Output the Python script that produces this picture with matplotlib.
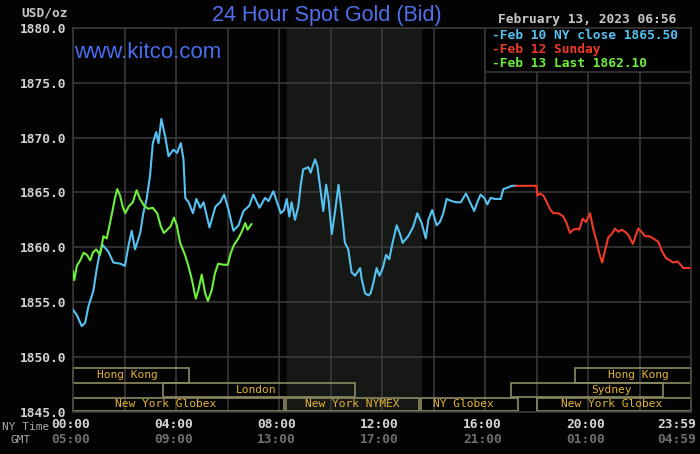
import matplotlib
matplotlib.use('Agg')
import matplotlib.pyplot as plt
from matplotlib.patches import Rectangle

# 数据：小时（纽约时间）与价格
blue_hours = [0.0, 0.15, 0.34, 0.47, 0.6, 0.79, 0.92, 1.05, 1.15, 1.37, 1.57, 1.83, 2.02, 2.15, 2.28,
              2.41, 2.61, 2.73, 2.86, 2.99, 3.1, 3.23, 3.32, 3.43, 3.58, 3.71, 3.9, 4.04, 4.19, 4.29,
              4.36, 4.49, 4.66, 4.79, 4.94, 5.07, 5.3, 5.53, 5.72, 5.87, 6.04, 6.23, 6.43, 6.62, 6.85,
              7.0, 7.24, 7.46, 7.59, 7.78, 7.91, 8.07, 8.2, 8.3, 8.4, 8.49, 8.62, 8.75, 8.84, 8.94,
              9.14, 9.23, 9.31, 9.4, 9.49, 9.59, 9.72, 9.83, 9.92, 10.05, 10.18, 10.31, 10.44, 10.56,
              10.69, 10.82, 10.95, 11.04, 11.15, 11.21, 11.34, 11.47, 11.56, 11.66, 11.79, 11.9, 12.03,
              12.16, 12.28, 12.41, 12.57, 12.7, 12.8, 13.02, 13.22, 13.37, 13.54, 13.7, 13.8, 13.95,
              14.12, 14.25, 14.38, 14.51, 14.71, 14.9, 15.06, 15.26, 15.42, 15.58, 15.7, 15.83, 15.97,
              16.09, 16.22, 16.39, 16.61, 16.71, 16.84, 17.04, 17.2]
blue_prices = [1854.3, 1853.8, 1852.8, 1853.1, 1854.6, 1856.0, 1858.0, 1859.6, 1860.2, 1859.6, 1858.6,
               1858.5, 1858.3, 1860.1, 1861.5, 1859.8, 1861.3, 1863.1, 1864.4, 1866.5, 1869.5, 1870.5,
               1869.5, 1871.7, 1870.1, 1868.3, 1868.9, 1868.6, 1869.5, 1868.0, 1864.5, 1864.1, 1863.1,
               1864.4, 1863.6, 1864.1, 1861.8, 1863.7, 1864.1, 1864.8, 1863.4, 1861.5, 1862.0, 1863.3,
               1863.8, 1864.8, 1863.6, 1864.5, 1864.2, 1865.1, 1864.2, 1863.1, 1863.4, 1864.4, 1862.8,
               1864.1, 1862.5, 1863.7, 1865.6, 1867.1, 1867.3, 1866.8, 1867.4, 1868.0, 1867.4, 1865.6,
               1863.3, 1865.7, 1864.4, 1861.2, 1863.3, 1865.7, 1863.1, 1860.4, 1859.8, 1857.7, 1857.4,
               1857.7, 1858.1, 1857.1, 1855.8, 1855.6, 1855.8, 1856.7, 1858.1, 1857.4, 1858.1, 1859.3,
               1858.9, 1860.4, 1862.0, 1861.2, 1860.4, 1861.0, 1861.9, 1863.1, 1862.2, 1860.8, 1862.5,
               1863.4, 1862.0, 1862.3, 1863.1, 1864.4, 1864.2, 1864.1, 1864.1, 1864.9, 1864.1, 1863.3,
               1864.1, 1864.8, 1864.5, 1863.9, 1864.5, 1864.4, 1864.4, 1865.3, 1865.4, 1865.6, 1865.6]

red_hours = [17.2, 18.0, 18.03, 18.14, 18.27, 18.4, 18.52, 18.65, 18.85, 19.04, 19.15, 19.3, 19.43,
             19.56, 19.66, 19.79, 19.92, 20.08, 20.21, 20.34, 20.44, 20.55, 20.66, 20.79, 20.92, 21.05,
             21.18, 21.31, 21.44, 21.57, 21.74, 21.86, 21.95, 22.08, 22.21, 22.38, 22.53, 22.73, 22.86,
             23.03, 23.18, 23.31, 23.47, 23.6, 23.7, 23.94]
red_prices = [1865.6, 1865.6, 1864.7, 1864.9, 1864.7, 1864.1, 1863.5, 1863.1, 1863.1, 1862.8, 1862.3,
              1861.3, 1861.6, 1861.7, 1861.6, 1862.6, 1862.3, 1863.1, 1861.6, 1860.5, 1859.4, 1858.6,
              1859.7, 1860.9, 1861.2, 1861.7, 1861.4, 1861.6, 1861.4, 1861.1, 1860.3, 1861.1, 1861.7,
              1861.4, 1861.0, 1861.0, 1860.8, 1860.5, 1859.7, 1859.0, 1858.8, 1858.6, 1858.7, 1858.4,
              1858.1, 1858.1]

green_hours = [0.0, 0.05, 0.15, 0.28, 0.41, 0.54, 0.67, 0.77, 0.9, 1.05, 1.18, 1.31, 1.41, 1.54, 1.63,
               1.72, 1.83, 1.93, 2.03, 2.16, 2.32, 2.47, 2.6, 2.76, 2.92, 3.09, 3.27, 3.41, 3.53, 3.66,
               3.79, 3.92, 4.03, 4.16, 4.35, 4.48, 4.62, 4.77, 4.87, 5.0, 5.13, 5.24, 5.39, 5.51, 5.64,
               5.84, 6.01, 6.13, 6.25, 6.42, 6.55, 6.69, 6.78, 6.93]
green_prices = [1857.8, 1857.0, 1858.3, 1858.8, 1859.5, 1859.3, 1858.8, 1859.5, 1859.8, 1859.3, 1861.0,
                1860.8, 1861.9, 1863.4, 1864.5, 1865.3, 1864.7, 1863.7, 1863.1, 1863.7, 1864.1, 1865.2,
                1864.4, 1863.8, 1863.5, 1863.6, 1863.1, 1861.9, 1861.3, 1861.6, 1861.9, 1862.7, 1862.0,
                1860.4, 1859.3, 1858.3, 1857.0, 1855.3, 1856.1, 1857.5, 1855.8, 1855.1, 1856.1, 1857.6,
                1858.5, 1858.4, 1858.4, 1859.5, 1860.2, 1860.8, 1861.4, 1862.2, 1861.6, 1862.1]

legend_labels = ['-Feb 10 NY close 1865.50', '-Feb 12 Sunday', '-Feb 13 Last 1862.10']

y_ticks = [1845, 1850, 1855, 1860, 1865, 1870, 1875, 1880]
x_ticks = [0, 4, 8, 12, 16, 20, 24]
ny_labels = ['00:00', '04:00', '08:00', '12:00', '16:00', '20:00', '23:59']
gmt_labels = ['05:00', '09:00', '13:00', '17:00', '21:00', '01:00', '04:59']

# 交易时段
session_names = ['Hong Kong', 'London', 'New York Globex', 'New York NYMEX', 'NY Globex',
                 'Sydney', 'Hong Kong', 'New York Globex']
session_start = [0, 3.5, 0, 8.27, 13.52, 17.0, 19.5, 18.0]
session_end = [4.5, 10.95, 8.2, 13.45, 17.3, 22.93, 24, 24]
session_row = [0, 1, 2, 2, 2, 1, 0, 2]
session_text_x = [2.1, 7.1, 3.6, 10.86, 15.15, 20.9, 21.95, 20.9]

nymex_open, nymex_close = 8.33, 13.5

BG = '#030303'
GRID = '#3c3c3c'
BLUE = '#55c2f2'
RED = '#ee3a26'
GREEN = '#6cf03c'
MONO = 'DejaVu Sans Mono'

fig = plt.figure(figsize=(7, 4.54), dpi=100, facecolor=BG)
ax = fig.add_axes([73 / 700, (454 - 411.6) / 454, 618 / 700, (411.6 - 28) / 454])
ax.set_facecolor(BG)
ax.set_xlim(0, 24)
ax.set_ylim(1845, 1880)

# NYMEX 时段阴影
ax.axvspan(nymex_open, nymex_close, color='#151815', zorder=0)

ax.set_xticks(list(range(0, 25, 2)))
ax.set_xticklabels([])
ax.set_yticks(y_ticks)
ax.set_yticklabels(['%.1f' % v for v in y_ticks], family=MONO, fontweight='bold',
                   fontsize=9.3, color='#d2d2d2')
ax.tick_params(length=0, pad=4.5)
ax.grid(color=GRID, linewidth=1.1)
ax.set_axisbelow(True)
for s in ax.spines.values():
    s.set_color(GRID)
    s.set_linewidth(1.1)

# 价格曲线
ax.plot(blue_hours, blue_prices, color=BLUE, lw=1.5, zorder=3)
ax.plot(red_hours, red_prices, color=RED, lw=1.5, zorder=3)
ax.plot(green_hours, green_prices, color=GREEN, lw=1.5, zorder=4)

# 时段方框
row_bottom = [1847.65, 1846.35, 1845.07]
row_top = [1848.95, 1847.6, 1846.27]
for name, a, b, r, tx in zip(session_names, session_start, session_end, session_row, session_text_x):
    ax.add_patch(Rectangle((a, row_bottom[r]), b - a, row_top[r] - row_bottom[r], fill=False,
                           edgecolor='#8c8a62', lw=1.2, zorder=2, clip_on=False))
    ax.text(tx, (row_bottom[r] + row_top[r]) / 2, name, family=MONO, fontsize=8.1,
            color='#e2b232', ha='center', va='center', zorder=5)

# 图例框
ax.add_patch(Rectangle((16.0, 1876.0), 8.0, 4.0, facecolor='#000000', edgecolor=GRID,
                       lw=1.1, zorder=6))
for lbl, c, yy in zip(legend_labels, [BLUE, RED, GREEN], [1879.36, 1878.08, 1876.8]):
    ax.text(16.27, yy, lbl, family=MONO, fontweight='bold', fontsize=9.3, color=c,
            ha='left', va='center', zorder=7)

# x 轴标签（两行）
xt = ax.get_xaxis_transform()
for h, ny, gmt in zip(x_ticks, ny_labels, gmt_labels):
    dx = -0.55 if h == 24 else -0.1
    ax.text(h + dx, -0.033, ny, transform=xt, family=MONO, fontweight='bold', fontsize=9.3,
            color='#d6d6d6', ha='center', va='center', clip_on=False)
    ax.text(h + dx, -0.072, gmt, transform=xt, family=MONO, fontweight='bold', fontsize=9.3,
            color='#6e6e6e', ha='center', va='center', clip_on=False)

fig.text(25.5 / 700, 1 - 427 / 454, 'NY Time', family=MONO, fontsize=8, color='#a8a8a8',
         ha='center', va='center')
fig.text(21 / 700, 1 - 440 / 454, 'GMT', family=MONO, fontsize=8, color='#a8a8a8',
         ha='center', va='center')

# 标题等文字
fig.text(326.5 / 700, 1 - 15 / 454, '24 Hour Spot Gold (Bid)', family='Liberation Sans',
         fontsize=15.5, color='#5070ee', ha='center', va='center')
fig.text(74 / 700, 1 - 52 / 454, 'www.kitco.com', family='Liberation Sans',
         fontsize=16, color='#4a6cee', ha='left', va='center')
fig.text(44.5 / 700, 1 - 13 / 454, 'USD/oz', family=MONO, fontweight='bold', fontsize=9.3,
         color='#c8c8c8', ha='center', va='center')
fig.text(498 / 700, 1 - 20 / 454, 'February 13, 2023 06:56', family=MONO, fontweight='bold',
         fontsize=9.3, color='#c8c8c8', ha='left', va='center')

fig.savefig('out.png', dpi=100, facecolor=BG)
